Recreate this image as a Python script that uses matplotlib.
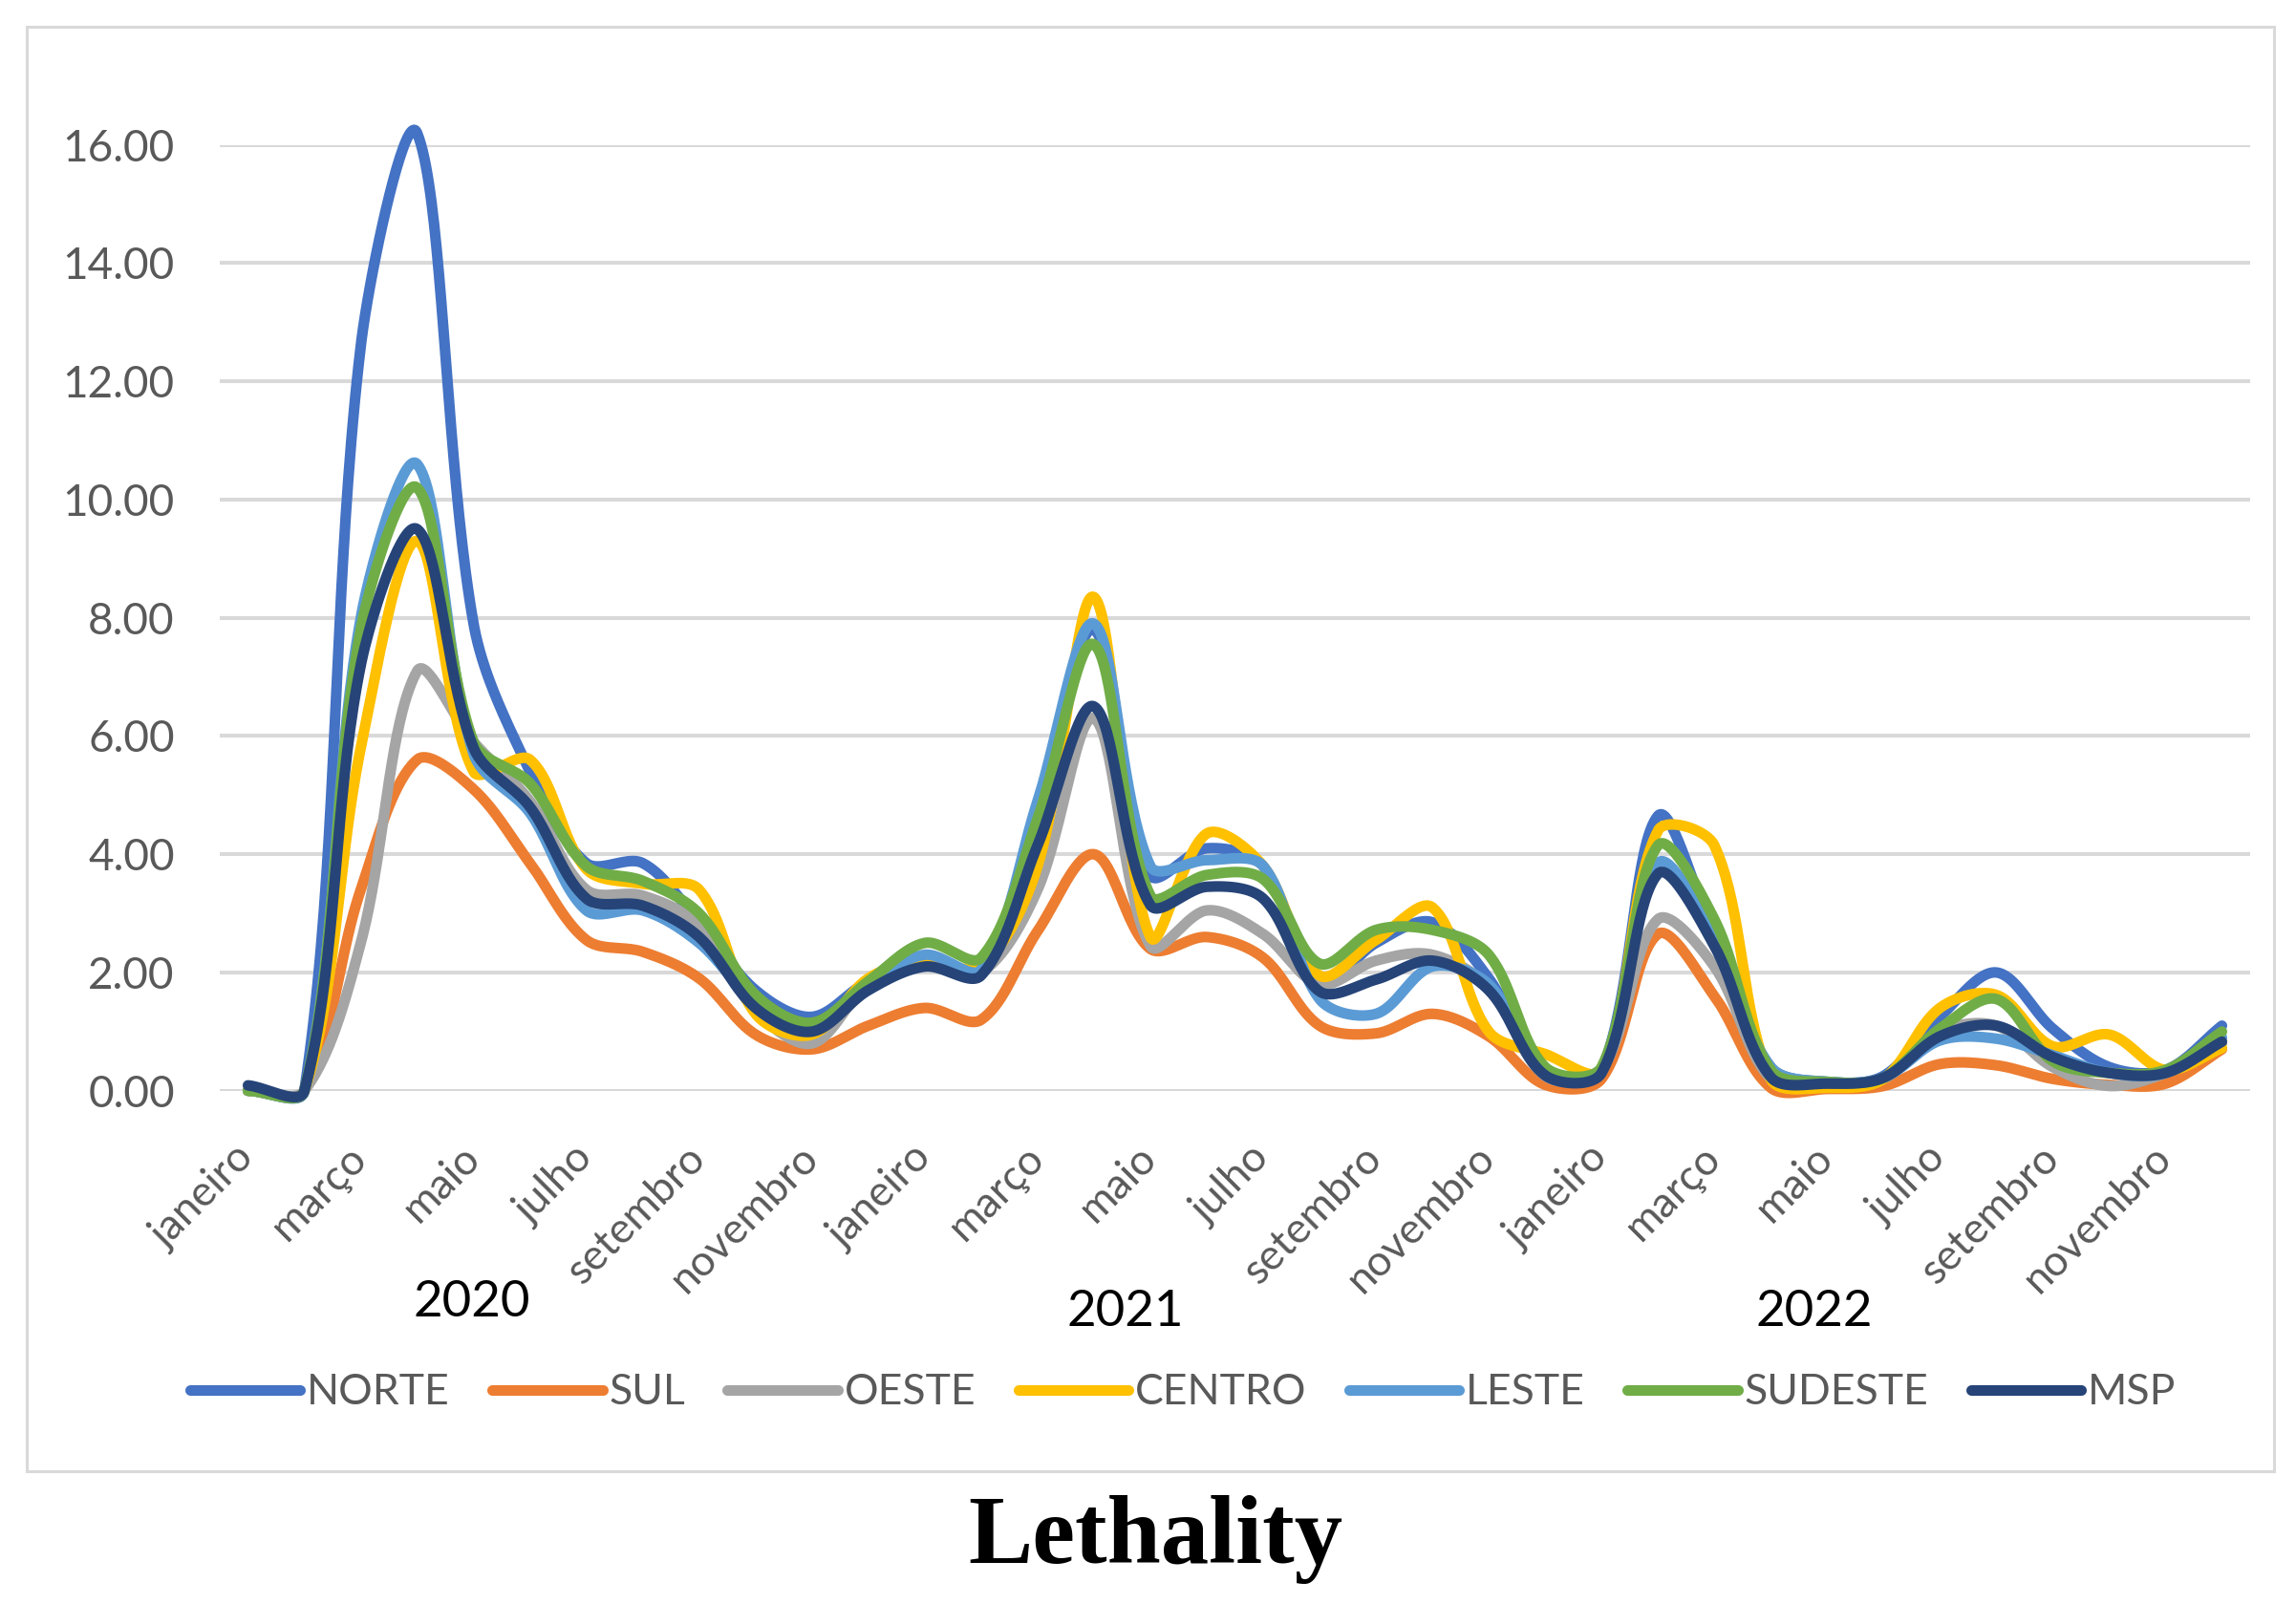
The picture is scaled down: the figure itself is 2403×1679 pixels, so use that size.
import numpy as np
import matplotlib
matplotlib.use("Agg")
import matplotlib.pyplot as plt
from matplotlib.lines import Line2D
from matplotlib.patches import Rectangle

# ---------------- data ----------------
month_labels = ['janeiro', 'março', 'maio', 'julho', 'setembro', 'novembro'] * 3
years = ['2020', '2021', '2022']
series_names = ['NORTE', 'SUL', 'OESTE', 'CENTRO', 'LESTE', 'SUDESTE', 'MSP']

norte = [0.0, 0.0, 12.6, 16.2, 7.9, 5.4, 3.85, 3.85, 2.85, 1.7, 1.25, 1.85,
         2.15, 2.0, 4.8, 7.8, 3.65, 4.1, 3.8, 1.8, 2.5, 2.85, 1.9, 0.3,
         0.35, 4.65, 2.6, 0.4, 0.15, 0.25, 1.25, 2.0, 1.05, 0.4, 0.35, 1.1]
sul = [0.0, 0.0, 3.4, 5.6, 5.1, 3.85, 2.55, 2.35, 1.9, 0.95, 0.7, 1.1,
       1.4, 1.2, 2.7, 4.0, 2.4, 2.6, 2.25, 1.1, 0.97, 1.3, 0.92, 0.1,
       0.2, 2.65, 1.6, 0.05, 0.03, 0.08, 0.45, 0.43, 0.2, 0.1, 0.12, 0.7]
oeste = [0.0, 0.0, 2.5, 7.1, 5.9, 4.9, 3.4, 3.3, 2.8, 1.35, 0.8, 1.8,
         2.2, 2.0, 3.4, 6.3, 2.45, 3.05, 2.65, 1.8, 2.2, 2.3, 1.75, 0.25,
         0.35, 2.9, 2.1, 0.2, 0.1, 0.2, 1.0, 1.1, 0.4, 0.08, 0.3, 0.8]
centro = [0.0, 0.0, 5.8, 9.3, 5.4, 5.6, 3.75, 3.5, 3.4, 1.3, 0.95, 1.9,
          2.2, 2.1, 3.8, 8.35, 2.6, 4.35, 3.8, 1.95, 2.55, 3.1, 1.0, 0.62,
          0.35, 4.4, 4.15, 0.2, 0.05, 0.2, 1.4, 1.62, 0.75, 0.95, 0.35, 0.72]
leste = [0.0, 0.0, 8.0, 10.6, 5.7, 4.7, 3.05, 3.05, 2.5, 1.5, 1.05, 1.8,
         2.3, 2.05, 4.9, 7.9, 3.8, 3.9, 3.8, 1.55, 1.3, 2.1, 1.8, 0.28,
         0.35, 3.85, 2.6, 0.4, 0.15, 0.22, 0.85, 0.88, 0.6, 0.3, 0.3, 0.9]
sudeste = [0.0, 0.0, 7.8, 10.2, 5.9, 5.2, 3.8, 3.55, 3.0, 1.62, 1.15, 1.85,
           2.5, 2.25, 4.6, 7.55, 3.3, 3.65, 3.58, 2.15, 2.72, 2.72, 2.3, 0.4,
           0.4, 4.15, 2.9, 0.35, 0.15, 0.22, 1.05, 1.55, 0.5, 0.3, 0.35, 1.0]
msp = [0.09, 0.0, 7.2, 9.5, 5.8, 4.8, 3.25, 3.13, 2.6, 1.4, 1.0, 1.7,
       2.1, 1.95, 4.15, 6.5, 3.14, 3.45, 3.25, 1.68, 1.88, 2.2, 1.7, 0.26,
       0.3, 3.67, 2.45, 0.23, 0.12, 0.22, 0.92, 1.1, 0.57, 0.3, 0.3, 0.83]

colors = ['#4472C4', '#ED7D31', '#A5A5A5', '#FFC000', '#5B9BD5', '#70AD47', '#264478']
all_series = [norte, sul, oeste, centro, leste, sudeste, msp]
y_ticks = [0, 2, 4, 6, 8, 10, 12, 14, 16]

W, H = 2403, 1679
left, right, bottom_px, top_px = 230, 2355, 1141.7, 151.7
SX = (right - left) / 36.0        # screen px per month
SY = (bottom_px - top_px) / 16.0  # screen px per unit


def smooth(y, n=40):
    """Excel-like smoothed line: Bezier segments, tangents scaled by
    screen-space chord lengths (limits overshoot near steep jumps)."""
    y = np.asarray(y, float)
    x = np.arange(len(y), dtype=float)
    P = np.column_stack([x * SX, y * SY])
    m = len(P)
    segs = []
    for i in range(m - 1):
        p0 = P[i - 1] if i > 0 else P[i]
        p1 = P[i]
        p2 = P[i + 1]
        p3 = P[i + 2] if i + 2 < m else P[i + 1]
        d01 = np.linalg.norm(p1 - p0)
        d12 = np.linalg.norm(p2 - p1)
        d23 = np.linalg.norm(p3 - p2)
        f1 = d12 / (d01 + d12) if (d01 + d12) > 0 else 0.5
        f2 = d12 / (d12 + d23) if (d12 + d23) > 0 else 0.5
        c1 = p1 + (p2 - p0) * f1 / 3.0
        c2 = p2 - (p3 - p1) * f2 / 3.0
        t = np.linspace(0, 1, n, endpoint=(i == m - 2))[:, None]
        b = ((1 - t) ** 3) * p1 + 3 * ((1 - t) ** 2) * t * c1 + 3 * (1 - t) * t ** 2 * c2 + t ** 3 * p2
        segs.append(b)
    pts = np.vstack(segs)
    return pts[:, 0] / SX, pts[:, 1] / SY


fig = plt.figure(figsize=(W / 100, H / 100), dpi=100)
fig.patch.set_facecolor('white')

FONT = ['Lato', 'DejaVu Sans']
GRAY = '#595959'

# outer chart frame
fig.patches.append(Rectangle((28 / W, 1 - 1540 / H), 2352 / W, (1540 - 28) / H,
                             transform=fig.transFigure, fill=False,
                             edgecolor='#D9D9D9', linewidth=2.2, zorder=0))

ax = fig.add_axes([left / W, 1 - bottom_px / H, (right - left) / W, (bottom_px - top_px) / H])
ax.set_xlim(-0.5, 35.5)
ax.set_ylim(0, 16)
for s in ax.spines.values():
    s.set_visible(False)
ax.set_yticks(y_ticks)
ax.set_yticklabels([f'{v:.2f}' for v in y_ticks], fontfamily=FONT, fontsize=33, color=GRAY)
ax.tick_params(axis='y', length=0, pad=34)
ax.yaxis.grid(True, color='#D9D9D9', linewidth=2.9)
ax.set_axisbelow(True)

ax.set_xticks(np.arange(0, 36, 2))
ax.set_xticklabels(month_labels, rotation=45, ha='right', va='center',
                   rotation_mode='anchor', fontfamily=FONT, fontsize=32, color=GRAY)
ax.tick_params(axis='x', length=0, pad=46)

for name, vals, c in zip(series_names, all_series, colors):
    xs, ys = smooth(vals)
    ax.plot(xs, ys, color=c, linewidth=8, solid_capstyle='round', clip_on=False, label=name)

# year labels
for yr, (px, py) in zip(years, [(494, 1364), (1178, 1373), (1899, 1373)]):
    fig.text(px / W, 1 - py / H, yr, ha='center', va='center', fontsize=38,
             fontfamily=FONT, color='black')

handles = [Line2D([0], [0], color=c, linewidth=8, solid_capstyle='round') for c in colors]
fig.legend(handles, series_names, loc='center', bbox_to_anchor=(1238 / W, 1 - 1458 / H),
           ncol=7, frameon=False, handlelength=2.6, handletextpad=0.15,
           columnspacing=1.0, prop={'family': FONT, 'size': 32}, labelcolor=GRAY)

fig.text(1209 / W, 1 - 1636 / H, 'Lethality', ha='center', va='baseline',
         fontsize=72.5, fontweight='bold', fontfamily=['Liberation Serif', 'DejaVu Serif'],
         color='black')

fig.savefig('out.png', dpi=100, facecolor='white')
